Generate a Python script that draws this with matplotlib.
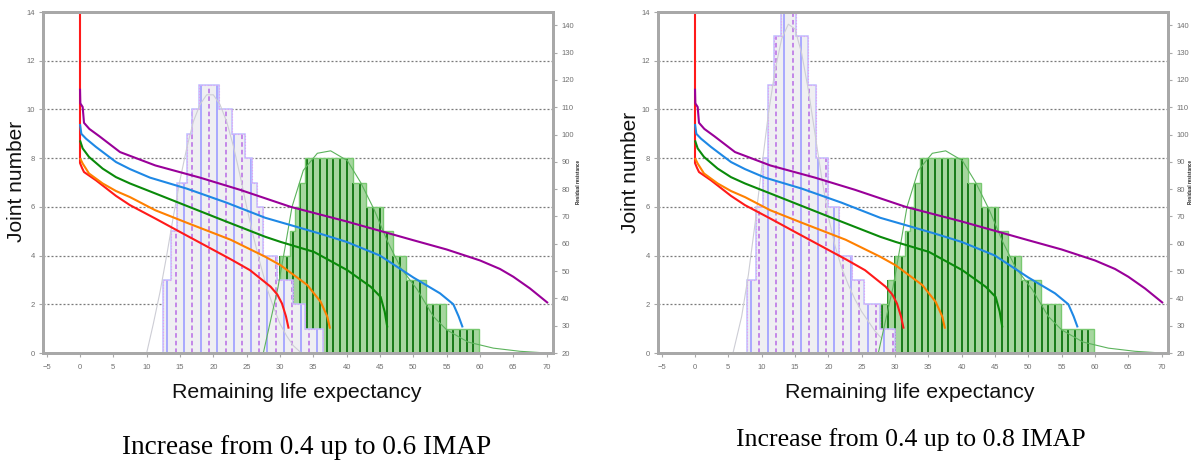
import numpy as np
import matplotlib
matplotlib.use("Agg")
import matplotlib.pyplot as plt

# ---------------- data ----------------
x_ticks = [-5, 0, 5, 10, 15, 20, 25, 30, 35, 40, 45, 50, 55, 60, 65, 70]
y_ticks = [0, 2, 4, 6, 8, 10, 12, 14]
y2_ticks = [20, 30, 40, 50, 60, 70, 80, 90, 100, 110, 120, 130, 140]

# lavender histogram, left panel (0.6 IMAP)
lav06_edges = [12.5, 13.6, 14.5, 16.0, 16.8, 17.8, 20.8, 22.8, 24.8, 25.8, 26.6, 27.4, 29.6, 31.9, 33.8, 36.5]
lav06_counts = [3, 5, 7, 9, 10, 11, 10, 9, 8, 7, 6, 4, 3, 2, 1]
lav06_fit_x = [10.0, 11.0, 12.0, 13.0, 14.0, 15.0, 16.0, 17.0, 18.0, 19.0, 20.0, 21.0, 22.0, 23.0, 24.0, 25.0,
               26.0, 27.0, 28.0, 29.0, 30.0, 31.0, 32.0, 33.0]
lav06_fit_y = [0.0, 1.2, 2.5, 4.0, 5.6, 7.1, 8.4, 9.5, 10.2, 10.6, 10.6, 10.2, 9.5, 8.5, 7.3, 6.0,
               4.8, 3.7, 2.7, 1.9, 1.2, 0.7, 0.3, 0.05]

# lavender histogram, right panel (0.8 IMAP)
lav08_edges = [7.8, 9.1, 10.2, 11.0, 11.9, 12.9, 15.1, 16.9, 18.1, 20.0, 21.6, 23.6, 25.3, 27.7, 30.0]
lav08_counts = [3, 6, 8, 11, 13, 15, 13, 11, 8, 6, 4, 3, 2, 1]
lav08_fit_x = [5.7, 7.0, 8.0, 9.0, 10.0, 11.0, 12.0, 13.0, 14.0, 15.0, 16.0, 17.0, 18.0, 19.0, 20.0,
               21.0, 22.0, 23.0, 24.0, 25.0, 26.0, 27.0, 28.0]
lav08_fit_y = [0.0, 1.5, 3.2, 5.3, 7.6, 9.8, 11.6, 12.9, 13.5, 13.3, 12.3, 10.8, 9.0, 7.2, 5.6,
               4.4, 3.5, 2.8, 2.2, 1.7, 1.3, 0.9, 0.6]

# green histogram (same in both panels)
green_edges = [27.7, 28.9, 30.0, 31.5, 32.2, 32.9, 33.7, 40.9, 42.9, 45.5, 47.0, 48.9, 51.9, 54.9, 59.9]
green_counts = [2, 3, 4, 5, 6, 7, 8, 7, 6, 5, 4, 3, 2, 1]
green_fit_x = [27.5, 29.7, 30.8, 31.8, 33.5, 35.6, 37.6, 40.1, 42.1, 44.1, 46.1, 48.1, 50.6, 53.0,
               55.0, 58.2, 62.0, 66.0, 70.0]
green_fit_y = [0.0, 2.7, 4.4, 6.0, 7.5, 8.2, 8.3, 7.9, 7.0, 5.9, 4.6, 3.5, 2.6, 1.5,
               0.95, 0.45, 0.2, 0.07, 0.0]

# decreasing curves
purple_x = [0, 0.05, 0.4, 0.6, 1.4, 2.9, 6.0, 11.3, 18.0, 24.0, 27.8, 31.6, 40.0, 50.0, 55.0, 60.0, 63.0, 65.0, 67.5, 70.2]
purple_y = [10.85, 10.25, 10.1, 9.45, 9.2, 8.9, 8.25, 7.7, 7.2, 6.7, 6.35, 6.0, 5.4, 4.63, 4.25, 3.8, 3.45, 3.13, 2.65, 2.05]
blue_x = [0, 0.2, 0.9, 2.4, 5.4, 7.5, 10.5, 16.0, 22.0, 27.8, 31.6, 36.0, 40.0, 45.0, 50.0, 54.0, 56.0, 56.8, 57.4]
blue_y = [9.4, 9.0, 8.8, 8.46, 7.84, 7.55, 7.2, 6.75, 6.17, 5.55, 5.25, 4.9, 4.56, 4.0, 3.1, 2.45, 2.0, 1.5, 1.05]
green_x = [0, 0.4, 1.35, 3.4, 5.4, 7.5, 11.3, 16.0, 22.0, 27.8, 30.1, 35.1, 40.1, 43.6, 45.1, 45.7, 46.1]
green_y = [8.73, 8.4, 8.05, 7.57, 7.22, 6.96, 6.55, 6.04, 5.39, 4.77, 4.56, 4.15, 3.4, 2.72, 2.3, 1.7, 1.05]
orange_x = [0, 0.4, 1.35, 3.4, 5.4, 7.5, 11.3, 16.0, 22.6, 27.8, 30.1, 34.1, 36.1, 37.1, 37.5]
orange_y = [8.0, 7.78, 7.37, 6.96, 6.65, 6.4, 5.86, 5.35, 4.65, 3.95, 3.6, 2.79, 2.1, 1.49, 1.0]
red_x = [0, 0, 0.3, 0.6, 2.4, 5.4, 7.5, 11.3, 15.0, 22.6, 25.5, 28.6, 29.6, 30.3, 30.9, 31.3]
red_y = [14, 7.8, 7.6, 7.43, 7.09, 6.45, 6.07, 5.52, 4.97, 3.85, 3.4, 2.72, 2.4, 2.03, 1.5, 1.0]

curve_list = [
    (red_x, red_y, "#ff1a1a"),
    (orange_x, orange_y, "#ff8000"),
    (green_x, green_y, "#0a8a0a"),
    (blue_x, blue_y, "#1e88e5"),
    (purple_x, purple_y, "#990099"),
]

captions = ["Increase from 0.4 up to 0.6 IMAP", "Increase from 0.4 up to 0.8 IMAP"]

# ---------------- drawing ----------------
plt.rcParams["font.family"] = ["Liberation Sans", "DejaVu Sans"]
W, H = 1198, 461
fig = plt.figure(figsize=(W / 100, H / 100), dpi=100)


def rect(l, t, r, b):
    return [l / W, 1 - b / H, (r - l) / W, (b - t) / H]


def heights_at(xs, edges, counts):
    edges = np.asarray(edges, float)
    counts = np.asarray(counts, float)
    idx = np.searchsorted(edges, xs, side="right") - 1
    ok = (idx >= 0) & (idx < len(counts))
    return np.where(ok, counts[np.clip(idx, 0, len(counts) - 1)], 0.0)


SPINE = "#a8a8a8"
TICKC = "#707070"


def panel(ax, lav_edges, lav_counts, fit_x, fit_y):
    ax.set_xlim(-5.55, 70.95)
    ax.set_ylim(0, 14)
    ax.set_xticks(x_ticks)
    ax.set_yticks(y_ticks)
    for y in y_ticks[1:-1]:
        ax.axhline(y, color="#7a7a7a", lw=0.9, ls=(0, (1.6, 1.6)), zorder=0.5)

    # green histogram
    ax.stairs(green_counts, green_edges, fill=True, color="#a6d69f", zorder=2)
    gx = np.arange(np.ceil(green_edges[0]), green_edges[-1], 1.0)
    ax.vlines(gx, 0, heights_at(gx, green_edges, green_counts), color="#187a18", lw=1.4, zorder=2.2)
    ax.stairs(green_counts, green_edges, color="#78c870", lw=1.0, zorder=2.3)

    # lavender histogram
    ax.stairs(lav_counts, lav_edges, fill=True, color="#efeff2", zorder=3)
    lx = np.arange(lav_edges[0] + 0.6, lav_edges[-1], 1.25)
    lh = heights_at(lx, lav_edges, lav_counts)
    ax.vlines(lx[::2], 0, lh[::2], color="#a9a9ff", lw=1.4, zorder=3.1)
    ax.vlines(lx[1::2], 0, lh[1::2], color="#b86ae6", lw=1.1, linestyles=[(0, (3, 2))], zorder=3.1)
    ax.stairs(lav_counts, lav_edges, color="#c0c0ff", lw=1.1, zorder=3.2)
    ax.stairs(lav_counts, lav_edges, color="#e39ef2", lw=0.8, ls=":", zorder=3.3)

    # fitted curves
    ax.plot(fit_x, fit_y, color="#cdcdd5", lw=0.8, zorder=4)
    ax.plot(green_fit_x, green_fit_y, color="#5cb35c", lw=0.8, zorder=4)

    for xs, ys, c in curve_list:
        ax.plot(xs, ys, color=c, lw=1.5, zorder=5, solid_capstyle="butt")

    for s in ax.spines.values():
        s.set_color(SPINE)
        s.set_linewidth(2)
        s.set_zorder(6)
    ax.tick_params(axis="both", direction="out", length=3, width=0.8, color=SPINE,
                   labelsize=5.5, labelcolor=TICKC, pad=3)
    ax.tick_params(axis="x", pad=5)

    tw = ax.twinx()
    tw.set_ylim(20, 144.9)
    tw.set_yticks(y2_ticks)
    tw.tick_params(axis="y", direction="out", length=3, width=0.8, color=SPINE,
                   labelsize=5.5, labelcolor=TICKC, pad=3)
    for s in tw.spines.values():
        s.set_color(SPINE)
        s.set_linewidth(2)
    return tw


axL = fig.add_axes(rect(43, 12, 553, 353))
axR = fig.add_axes(rect(658, 12, 1168, 353))
panel(axL, lav06_edges, lav06_counts, lav06_fit_x, lav06_fit_y)
panel(axR, lav08_edges, lav08_counts, lav08_fit_x, lav08_fit_y)

# labels
for cx, cy in [(17, 181), (630, 172)]:
    fig.text(cx / W, 1 - cy / H, "Joint number", rotation=90, ha="center", va="center",
             fontsize=15, color="#111111")
for cx, cy in [(297, 393), (910, 393)]:
    fig.text(cx / W, 1 - cy / H, "Remaining life expectancy", ha="center", va="center",
             fontsize=15.4, color="#111111")
for cx, cy in [(578, 182), (1190, 182)]:
    fig.text(cx / W, 1 - cy / H, "Residual resistance", rotation=90, ha="center", va="center",
             fontsize=3.3, fontweight="bold", color="#222222")
for (cx, cy), t, fs in zip([(307, 447), (911, 440)], captions, [19.6, 18.5]):
    fig.text(cx / W, 1 - cy / H, t, ha="center", va="center", fontsize=fs,
             family=["Liberation Serif", "DejaVu Serif"], color="#000000")

fig.savefig("out.png", dpi=100)
